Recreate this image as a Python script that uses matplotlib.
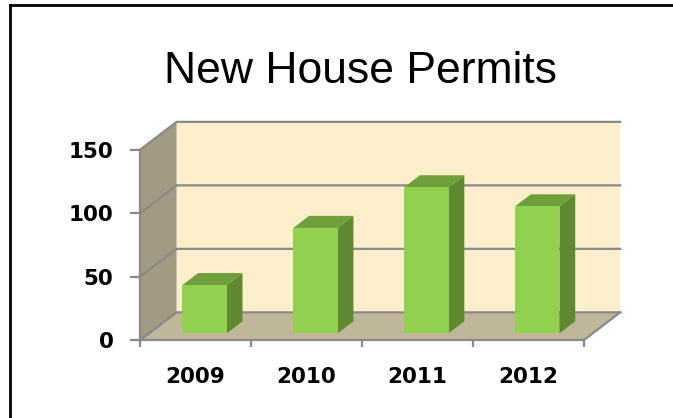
import numpy as np
import matplotlib.pyplot as plt
from matplotlib.patches import Polygon
from matplotlib.lines import Line2D

years = ["2009", "2010", "2011", "2012"]
permits = [38, 83, 115, 100]
y_ticks = [0, 50, 100, 150]

# 3d look: depth offset in data units
DX, DY = 0.33, 22.0
Z0, Z1 = 0.25, 0.68
BAR_W = 0.4
GRID = "#898989"

fig = plt.figure(figsize=(6.73, 4.18), dpi=100)
ax = fig.add_axes([140 / 673, 77.7 / 418, 443.6 / 673, 190.5 / 418])
ax.set_xlim(0, len(years))
ax.set_ylim(0, 150)


def proj(x, y, z):
    return (x + z * DX, y + z * DY)


def face(pts, color, zo):
    ax.add_patch(Polygon([proj(*p) for p in pts], closed=True, facecolor=color,
                         edgecolor="none", zorder=zo, clip_on=False))


n = len(years)
top = y_ticks[-1]
# walls and floor
face([(0, 0, 1), (n, 0, 1), (n, top, 1), (0, top, 1)], "#fdefcb", 1)
face([(0, 0, 0), (0, 0, 1), (0, top, 1), (0, top, 0)], "#a39a83", 1)
face([(0, 0, 0), (n, 0, 0), (n, 0, 1), (0, 0, 1)], "#c0b79b", 1)

for v in y_ticks:
    xs, ys = zip(proj(0, v, 0), proj(0, v, 1), proj(n, v, 1))
    ax.plot(xs, ys, color=GRID, lw=1.6, zorder=2, clip_on=False)
xs, ys = zip(proj(n, 0, 0), proj(n, 0, 1))
ax.plot(xs, ys, color=GRID, lw=1.6, zorder=2, clip_on=False)

# bars
for i, v in enumerate(permits):
    x0 = i + (1 - BAR_W) / 2
    x1 = x0 + BAR_W
    face([(x1, 0, Z0), (x1, 0, Z1), (x1, v, Z1), (x1, v, Z0)], "#5f8a32", 3)
    face([(x0, v, Z0), (x1, v, Z0), (x1, v, Z1), (x0, v, Z1)], "#6f9f3b", 3)
    face([(x0, 0, Z0), (x1, 0, Z0), (x1, v, Z0), (x0, v, Z0)], "#92d050", 4)

for s in ["top", "right"]:
    ax.spines[s].set_visible(False)
for s in ["left", "bottom"]:
    ax.spines[s].set_color(GRID)
    ax.spines[s].set_linewidth(1.6)
    ax.spines[s].set_zorder(5)

ax.set_yticks(y_ticks)
ax.set_xticks(range(n + 1))
ax.set_xticklabels([])
ax.set_xticks(np.arange(n) + 0.5, minor=True)
ax.set_xticklabels(years, minor=True)
ax.tick_params(axis="y", length=7, width=1.6, color=GRID, pad=12,
               labelsize=15.5)
ax.tick_params(axis="x", which="major", length=5, width=1.6, color=GRID)
ax.tick_params(axis="x", which="minor", length=0, pad=19, labelsize=15.5)
for lab in ax.get_yticklabels() + ax.get_xticklabels(minor=True):
    lab.set_family("DejaVu Sans")
    lab.set_fontweight("bold")

fig.text(361 / 673, 1 - 83 / 418, "New House Permits", ha="center",
         va="baseline", fontsize=32, family="Liberation Sans")

# outer frame (only top and left visible)
fig.add_artist(Line2D([10 / 673, 1], [1 - 5 / 418, 1 - 5 / 418],
                      color="black", lw=2, transform=fig.transFigure))
fig.add_artist(Line2D([10 / 673, 10 / 673], [0, 1 - 5 / 418],
                      color="black", lw=2, transform=fig.transFigure))

fig.savefig("out.png", dpi=100)
